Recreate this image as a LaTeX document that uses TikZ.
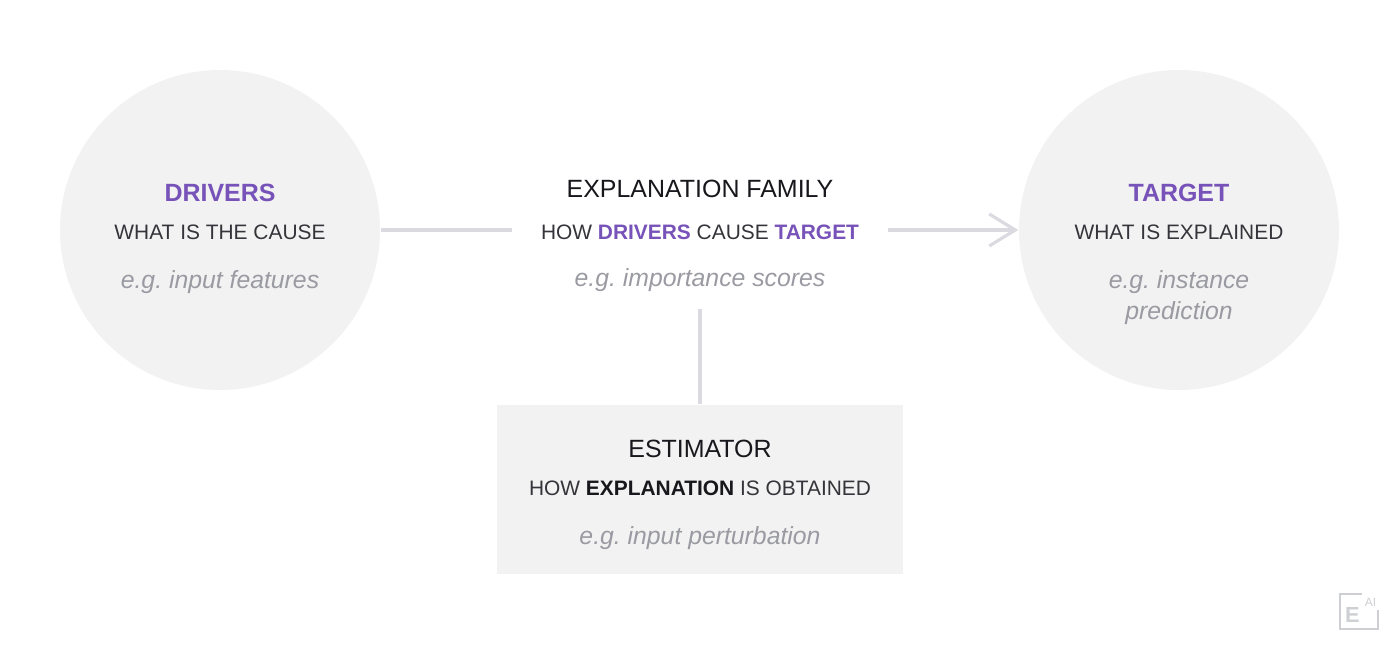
\documentclass[tikz,border=0pt]{standalone}
\usepackage{fontspec}
\setmainfont{Liberation Sans}
\usepackage{xcolor}
\usetikzlibrary{arrows.meta}
\definecolor{bubble}{HTML}{F2F2F2}
\definecolor{violet}{HTML}{7752B8}
\definecolor{wire}{HTML}{DADAE0}
\definecolor{note}{HTML}{9A9AA2}
\definecolor{ink}{HTML}{17171C}
\definecolor{sub}{HTML}{34343A}
\definecolor{badge}{HTML}{CDCFD3}
\newcommand{\hl}[1]{{\bfseries\color{violet}#1}}
\frenchspacing
\begin{document}
\begin{tikzpicture}[
    blob/.style={circle, fill=bubble, minimum size=3.2cm, inner sep=0pt},
    panel/.style={rectangle, fill=bubble, minimum width=4.06cm, minimum height=1.69cm, inner sep=0pt},
    holder/.style={rectangle, minimum width=3.74cm, minimum height=1.56cm, inner sep=0pt},
    wireline/.style={draw=wire, line width=0.032cm},
    heading/.style={anchor=base, font=\fontsize{7.1}{8}\selectfont, text=ink, inner sep=0pt},
    tagline/.style={anchor=base, font=\fontsize{5.95}{7}\selectfont, text=sub, inner sep=0pt},
    remark/.style={anchor=base, font=\fontsize{7.05}{8}\selectfont\itshape, text=note, inner sep=0pt}
  ]
  \useasboundingbox (0,0) rectangle (14,6.54);

  % shapes
  \node[blob] (drivers) at (2.2,4.24) {};
  \node[blob] (target) at (11.79,4.24) {};
  \node[holder] (family) at (7,4.24) {};
  \node[panel] (estimator) at (7,1.645) {};

  % connectors
  \draw[wireline] (drivers.east) -- (family.west);
  \draw[wireline, -{Straight Barb[length=0.26cm, width=0.32cm]}] (family.east) -- (target.west);
  \draw[wireline] (family.south) -- (estimator.north);

  % left circle
  \node[heading] (driversname) at (2.2,4.53) {\hl{DRIVERS}};
  \node[tagline] (driverswhat) at (2.2,4.15) {WHAT IS THE CAUSE};
  \node[remark] (driversnote) at (2.2,3.66) {e.g. input features};

  % right circle
  \node[heading] (targetname) at (11.79,4.53) {\hl{TARGET}};
  \node[tagline] (targetwhat) at (11.79,4.15) {WHAT IS EXPLAINED};
  \node[remark] (targetnote) at (11.79,3.66) {e.g. instance};
  \node[remark] (targetnotetwo) at (11.79,3.35) {prediction};

  % middle
  \node[heading] (familyname) at (7,4.57) {EXPLANATION FAMILY};
  \node[tagline] (familywhat) at (7,4.15) {HOW \hl{DRIVERS} CAUSE \hl{TARGET}};
  \node[remark] (familynote) at (7,3.68) {e.g. importance scores};

  % box
  \node[heading] (estimatorname) at (7,1.97) {ESTIMATOR};
  \node[tagline] (estimatorwhat) at (7,1.59) {HOW \textbf{\color{ink}EXPLANATION} IS OBTAINED};
  \node[remark] (estimatornote) at (7,1.1) {e.g. input perturbation};

  % logo
  \draw[draw=badge, line width=0.025cm] (13.78,0.44) -- (13.78,0.25) -- (13.4,0.25) -- (13.4,0.6) -- (13.62,0.6);
  \node[anchor=base, inner sep=0pt, text=badge, font=\fontsize{6.2}{7}\selectfont\bfseries] (logoe) at (13.525,0.32) {E};
  \node[anchor=base, inner sep=0pt, text=badge, font=\fontsize{3.4}{4}\selectfont] (logoai) at (13.705,0.48) {AI};
\end{tikzpicture}
\end{document}
